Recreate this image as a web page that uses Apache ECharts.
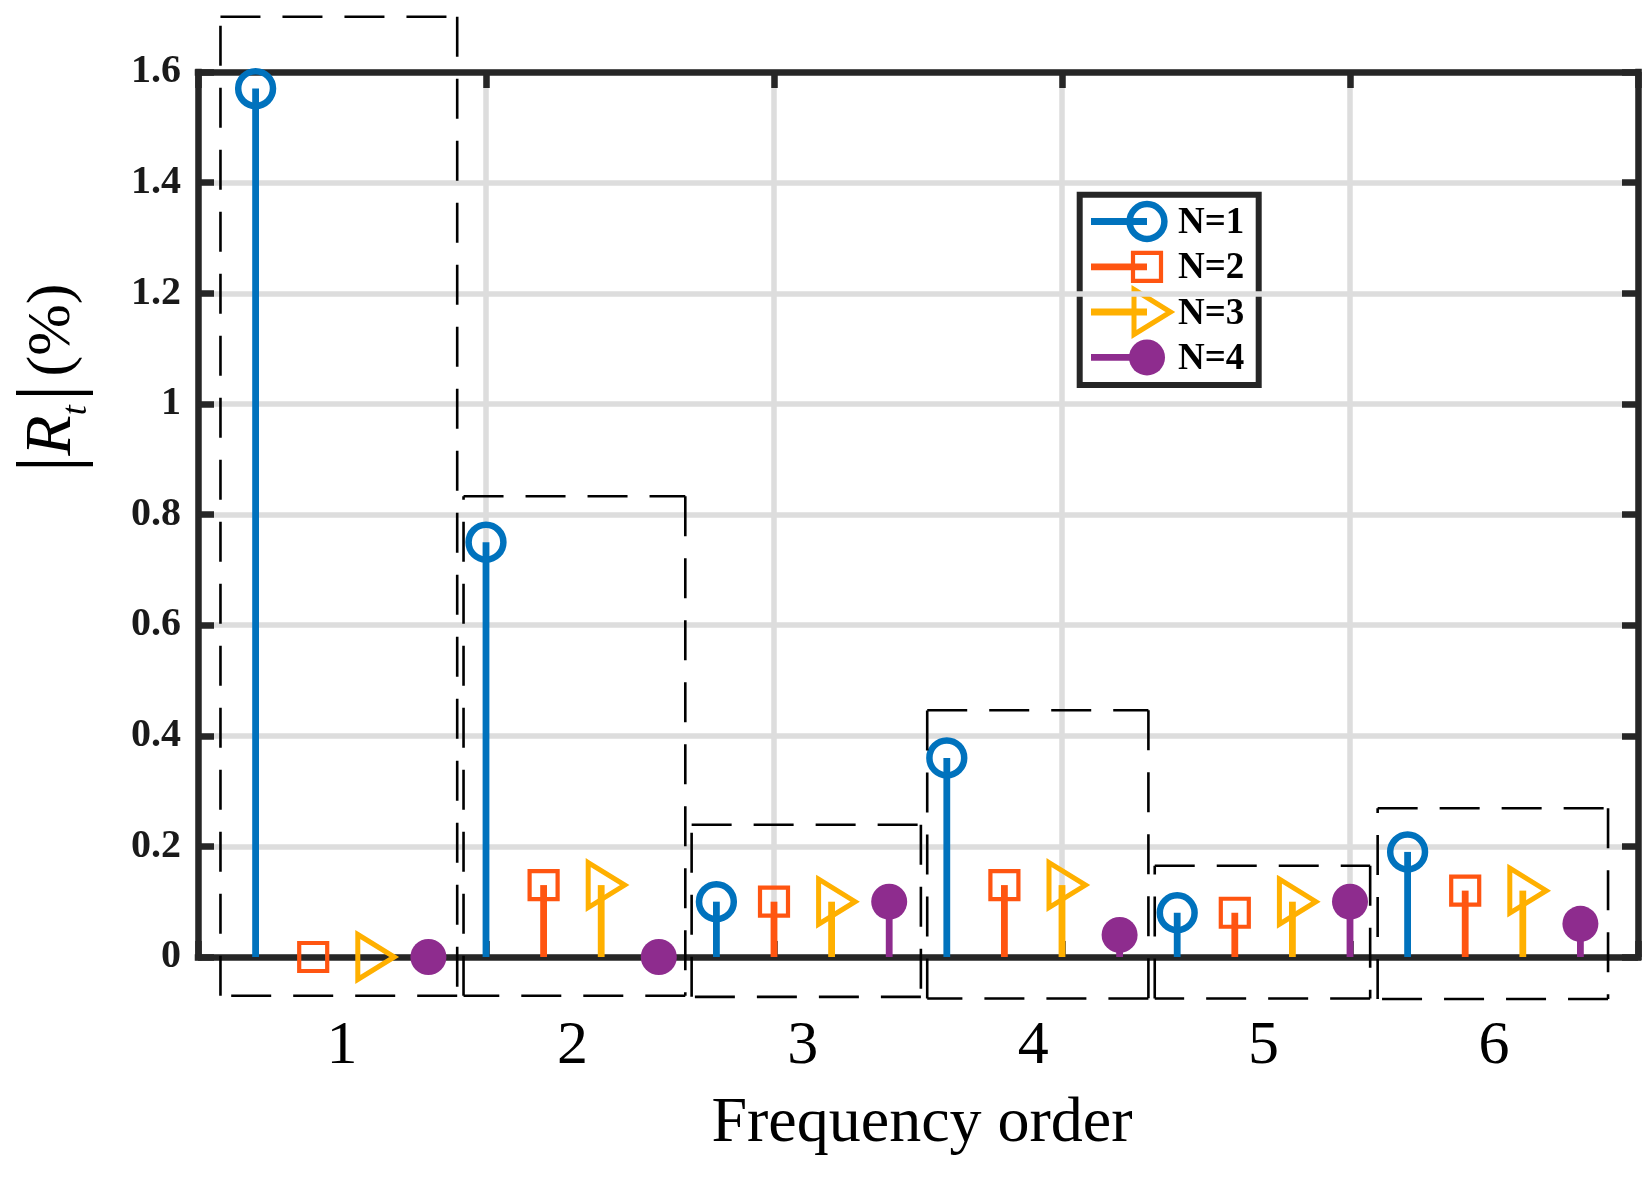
<!DOCTYPE html>
<html>
<head>
<meta charset="utf-8">
<script src="https://cdn.jsdelivr.net/npm/echarts@6/dist/echarts.min.js"></script>
<style>
  html, body { margin: 0; padding: 0; background: #ffffff; }
  #chart { width: 1651px; height: 1181px; }
</style>
</head>
<body>
<div id="chart"></div>
<script>
// ---------------- data ----------------
const categories = ['1', '2', '3', '4', '5', '6'];          // frequency order groups
const seriesNames = ['N=1', 'N=2', 'N=3', 'N=4'];
const valuesN1 = [1.57, 0.75, 0.10, 0.36, 0.08, 0.19];
const valuesN2 = [0.00, 0.13, 0.10, 0.13, 0.08, 0.12];
const valuesN3 = [0.00, 0.13, 0.10, 0.13, 0.10, 0.12];
const valuesN4 = [0.00, 0.00, 0.10, 0.04, 0.10, 0.06];
const yTickMin = 0, yTickMax = 1.6, yTickStep = 0.2;
const xIndexMin = 0, xIndexMax = 25, xIndexStep = 5;
// dashed annotation boxes around each group (data units: stem index, |Rt|)
const boxLeft   = [0.39, 4.61, 8.57, 12.66, 16.61, 20.48];
const boxRight  = [4.50, 8.46, 12.55, 16.50, 20.35, 24.48];
const boxTop    = [1.70, 0.833, 0.239, 0.446, 0.165, 0.269];
const boxBottom = [-0.07, -0.07, -0.072, -0.075, -0.075, -0.076];

const allValues = [valuesN1, valuesN2, valuesN3, valuesN4];
const colors = ['#0072BD', '#FF5511', '#FFB000', '#8E2C8E'];
const FONT = 'Liberation Serif';
const AXIS_COLOR = '#262626';
const nPer = seriesNames.length;

// stem position of series s in group g (sequential stem index)
function stemX(g, s) { return g * nPer + s + 1; }
function groupCenter(g) { return g * nPer + (nPer + 1) / 2; }

function marker(s, cx, cy, scale) {
  const k = scale || 1;
  const c = colors[s];
  if (s === 0) return { type: 'circle', shape: { cx: cx, cy: cy, r: 17.4 * k }, style: { fill: 'none', stroke: c, lineWidth: 6.5 } };
  if (s === 1) return { type: 'rect', shape: { x: cx - 14 * k, y: cy - 14 * k, width: 28 * k, height: 28 * k }, style: { fill: 'none', stroke: c, lineWidth: 4.2 } };
  if (s === 2) return { type: 'polygon', shape: { points: [[cx - 13 * k, cy - 22.5 * k], [cx + 23.5 * k, cy], [cx - 13 * k, cy + 22.5 * k]] }, style: { fill: 'none', stroke: c, lineWidth: 5, lineJoin: 'miter' } };
  return { type: 'circle', shape: { cx: cx, cy: cy, r: 18 * k }, style: { fill: c } };
}

function stemSeries(s) {
  return {
    type: 'custom',
    name: seriesNames[s],
    xAxisIndex: 0, yAxisIndex: 0,
    silent: true,
    clip: false,
    z: 5 + s,
    data: allValues[s].map((v, g) => [stemX(g, s), v]),
    encode: { x: 0, y: 1 },
    renderItem: function (params, api) {
      const x = api.value(0), y = api.value(1);
      const p0 = api.coord([x, 0]);
      const p1 = api.coord([x, y]);
      const children = [];
      if (p0[1] - p1[1] > 0.5) {
        children.push({ type: 'line', shape: { x1: p0[0], y1: p0[1], x2: p1[0], y2: p1[1] }, style: { stroke: colors[s], lineWidth: 6.8 } });
      }
      children.push(marker(s, p1[0], p1[1]));
      return { type: 'group', children: children };
    }
  };
}

const boxSeries = {
  type: 'custom',
  silent: true,
  clip: false,
  z: 20,
  data: categories.map((c, g) => [boxLeft[g], boxRight[g], boxTop[g], boxBottom[g]]),
  encode: { x: [0, 1], y: [2, 3] },
  renderItem: function (params, api) {
    const tl = api.coord([api.value(0), api.value(2)]);
    const tr = api.coord([api.value(1), api.value(2)]);
    const br = api.coord([api.value(1), api.value(3)]);
    const bl = api.coord([api.value(0), api.value(3)]);
    const st = { stroke: '#000', lineWidth: 2.6, lineDash: [40, 22], fill: 'none' };
    const seg = (a, b) => ({ type: 'line', shape: { x1: a[0], y1: a[1], x2: b[0], y2: b[1] }, style: st });
    return { type: 'group', children: [seg(tl, tr), seg(tr, br), seg(br, bl), seg(bl, tl)] };
  }
};

// legend drawn as graphic (line + marker + label)
const legendX0 = 1091, legendMarkX = 1147, legendTextX = 1178;
const legendRowY = [221.5, 266.8, 312, 357.4];
const legendChildren = [{
  type: 'rect', shape: { x: 1079.7, y: 194.7, width: 179, height: 190.3 },
  style: { fill: '#fff', stroke: AXIS_COLOR, lineWidth: 6 }
}];
seriesNames.forEach((name, s) => {
  const y = legendRowY[s];
  legendChildren.push({ type: 'line', shape: { x1: legendX0, y1: y, x2: legendMarkX, y2: y }, style: { stroke: colors[s], lineWidth: 6.8 } });
  legendChildren.push(marker(s, legendMarkX, y));
  legendChildren.push({ type: 'text', x: legendTextX, y: y + 2, style: { text: name, font: 'bold 37px "' + FONT + '"', fill: '#000', align: 'left', verticalAlign: 'middle' } });
});

const chart = echarts.init(document.getElementById('chart'), null, { renderer: 'canvas' });
const gridLine = { show: true, lineStyle: { color: '#dddddd', width: 5.5 } };
const axLine = { show: true, onZero: false, lineStyle: { color: AXIS_COLOR, width: 6.5, cap: 'square' } };
const axTick = { show: true, inside: true, length: 16, lineStyle: { color: AXIS_COLOR, width: 6.5 } };

chart.setOption({
  backgroundColor: '#ffffff',
  animation: false,
  grid: { left: 198, right: 13, top: 72, bottom: 224, containLabel: false },
  xAxis: [{
    type: 'value', position: 'bottom',
    min: xIndexMin, max: xIndexMax, interval: xIndexStep,
    axisLine: axLine, axisTick: axTick, splitLine: gridLine,
    axisLabel: {
      show: true, margin: 90, verticalAlign: 'middle',
      customValues: categories.map((c, g) => groupCenter(g)),
      formatter: function (v) {
        const g = Math.round((v - (nPer + 1) / 2) / nPer);
        return categories[g] !== undefined ? categories[g] : '';
      },
      fontFamily: FONT, fontSize: 62, color: '#000'
    }
  }, {
    type: 'value', position: 'top',
    min: xIndexMin, max: xIndexMax, interval: xIndexStep,
    axisLine: axLine, axisTick: axTick, splitLine: { show: false },
    axisLabel: { show: false }
  }],
  yAxis: [{
    type: 'value', position: 'left',
    min: yTickMin, max: yTickMax, interval: yTickStep,
    axisLine: axLine, axisTick: axTick, splitLine: gridLine,
    axisLabel: { margin: 17, fontFamily: FONT, fontWeight: 'bold', fontSize: 40, color: '#1a1a1a' }
  }, {
    type: 'value', position: 'right',
    min: yTickMin, max: yTickMax, interval: yTickStep,
    axisLine: axLine, axisTick: axTick, splitLine: { show: false },
    axisLabel: { show: false }
  }],
  series: [stemSeries(0), stemSeries(1), stemSeries(2), stemSeries(3), boxSeries],
  graphic: [
    { type: 'group', z: 50, children: legendChildren },
    {
      type: 'text', z: 50, x: 922, y: 1124,
      style: { text: 'Frequency order', font: '64px "' + FONT + '"', fill: '#000', align: 'center', verticalAlign: 'middle' }
    },
    {
      type: 'text', z: 50, x: 53, y: 378, rotation: Math.PI / 2,
      style: {
        text: '{b||}{r|R}{s|t}{b||}{p|(%)}',
        align: 'center', verticalAlign: 'middle',
        rich: {
          b: { fontFamily: FONT, fontSize: 84, fill: '#000', verticalAlign: 'middle' },
          r: { fontFamily: FONT, fontStyle: 'italic', fontSize: 66, fill: '#000', verticalAlign: 'middle' },
          s: { fontFamily: FONT, fontStyle: 'italic', fontSize: 36, fill: '#000', verticalAlign: 'bottom', padding: [0, 4, 0, 0] },
          p: { fontFamily: FONT, fontSize: 62, fill: '#000', verticalAlign: 'middle', padding: [0, 0, 0, 8] }
        }
      }
    }
  ]
});
</script>
</body>
</html>
